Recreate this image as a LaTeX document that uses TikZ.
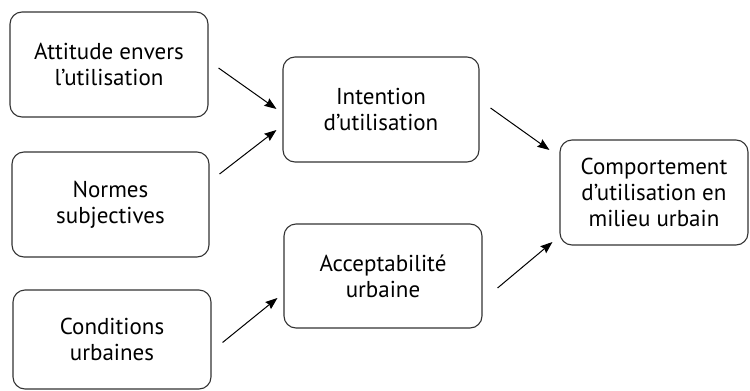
\documentclass[tikz,border=0pt]{standalone}
\usepackage{fontspec}
\setmainfont{PT Sans}
\usetikzlibrary{arrows.meta}
\begin{document}
\begin{tikzpicture}[x=1pt,y=-1pt,
  box/.style={draw=black!80, line width=1.1pt, rounded corners=12pt,
    align=center, inner sep=0pt, font=\fontsize{23}{26}\selectfont},
  link/.style={draw=black, line width=1pt,
    -{Stealth[length=12pt,width=9pt,inset=1.5pt]}}]
\useasboundingbox (0,0) rectangle (750,391);
% input factors
\node[box, minimum width=198pt, minimum height=105pt] (att) at (109,64.5) {Attitude envers\\l’utilisation};
\node[box, minimum width=197pt, minimum height=105pt] (norm) at (110.5,204.5) {Normes\\subjectives};
\node[box, minimum width=198pt, minimum height=99pt] (cond) at (112,339.5) {Conditions\\urbaines};
% intermediate constructs
\node[box, minimum width=196pt, minimum height=105pt] (int) at (381,109.5) {Intention\\d’utilisation};
\node[box, minimum width=198pt, minimum height=104pt] (acc) at (383,276) {Acceptabilité\\urbaine};
% outcome
\node[box, minimum width=188pt, minimum height=105pt] (comp) at (654,192.5) {Comportement\\d’utilisation en\\milieu urbain};
% relations
\draw[link] ([shift={(10,3.5)}]att.east) -- ([shift={(-6,-0.5)}]int.west);
\draw[link] ([shift={(10,-30.5)}]norm.east) -- ([shift={(-6,20.5)}]int.west);
\draw[link] ([shift={(11,3)}]cond.east) -- ([shift={(-6,22)}]acc.west);
\draw[link] ([shift={(11,-1.5)}]int.east) -- ([shift={(-10,-42.5)}]comp.west);
\draw[link] ([shift={(15,12)}]acc.east) -- ([shift={(-7,49.5)}]comp.west);
\end{tikzpicture}
\end{document}
